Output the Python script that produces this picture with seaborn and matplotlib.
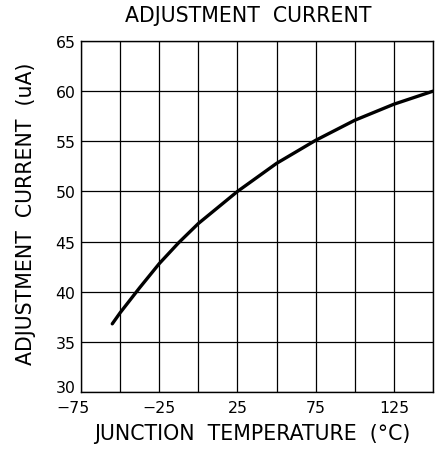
import matplotlib
matplotlib.use("Agg")
import matplotlib.pyplot as plt
import matplotlib.transforms as mtransforms
import seaborn as sns
import pandas as pd

# --------- chart data -----------------------------------
temperature = [-55, -50, -37.5, -25, -12.5, 0, 25, 50, 75, 100, 125, 150]
current = [36.8, 37.9, 40.4, 42.8, 44.9, 46.8, 50.0, 52.8, 55.1, 57.1, 58.7, 60.0]
x_ticks = [-75, -25, 25, 75, 125]
x_tick_labels = ["\u221275", "\u221225", "25", "75", "125"]
y_ticks = [30, 35, 40, 45, 50, 55, 60, 65]
x_grid = [-75, -50, -25, 0, 25, 50, 75, 100, 125, 150]
# --------------------------------------------------------

df = pd.DataFrame({"temp": temperature, "current": current})

sns.set_style("white")
plt.rcParams["font.family"] = ["DejaVu Sans"]
plt.rcParams["text.color"] = "black"
plt.rcParams["axes.labelcolor"] = "black"
plt.rcParams["xtick.color"] = "black"
plt.rcParams["ytick.color"] = "black"

fig = plt.figure(figsize=(4.45, 4.52), dpi=100)
ax = fig.add_axes([0.182, 0.1305, 0.791, 0.7765])

# grid drawn by hand: a line every 25 degC, but only every other one labelled
for gx in x_grid:
    ax.axvline(gx, color="black", lw=0.9, zorder=1)
for gy in y_ticks:
    ax.axhline(gy, color="black", lw=0.9, zorder=1)

sns.lineplot(data=df, x="temp", y="current", color="black", lw=2.4, ax=ax, zorder=3)

ax.set_xlim(-75, 150)
ax.set_ylim(30, 65)
ax.set_xticks(x_ticks)
ax.set_xticklabels(x_tick_labels)
ax.set_yticks(y_ticks)
ax.tick_params(axis="x", length=0, labelsize=11.3, pad=6)
ax.tick_params(axis="y", length=0, labelsize=11.3, pad=4)

# corner labels nudged apart like in the original
ax.get_xticklabels()[0].set_transform(
    ax.get_xticklabels()[0].get_transform() + mtransforms.ScaledTranslation(-0.08, 0, fig.dpi_scale_trans))
ax.get_yticklabels()[0].set_transform(
    ax.get_yticklabels()[0].get_transform() + mtransforms.ScaledTranslation(0, 0.06, fig.dpi_scale_trans))

for s in ax.spines.values():
    s.set_color("black")
    s.set_linewidth(1.0)

ax.set_title("ADJUSTMENT  CURRENT", fontsize=14.8, x=0.476, y=1.074, va="center", pad=0)
ax.set_xlabel("JUNCTION  TEMPERATURE  (\u00b0C)", fontsize=14.8)
ax.set_ylabel("ADJUSTMENT  CURRENT  (uA)", fontsize=14.8)
ax.xaxis.set_label_coords(0.486, -0.117)
ax.xaxis.label.set_va("center")
ax.yaxis.set_label_coords(-0.156, 0.51)
ax.yaxis.label.set_va("center")

fig.savefig("out.png", dpi=100)
